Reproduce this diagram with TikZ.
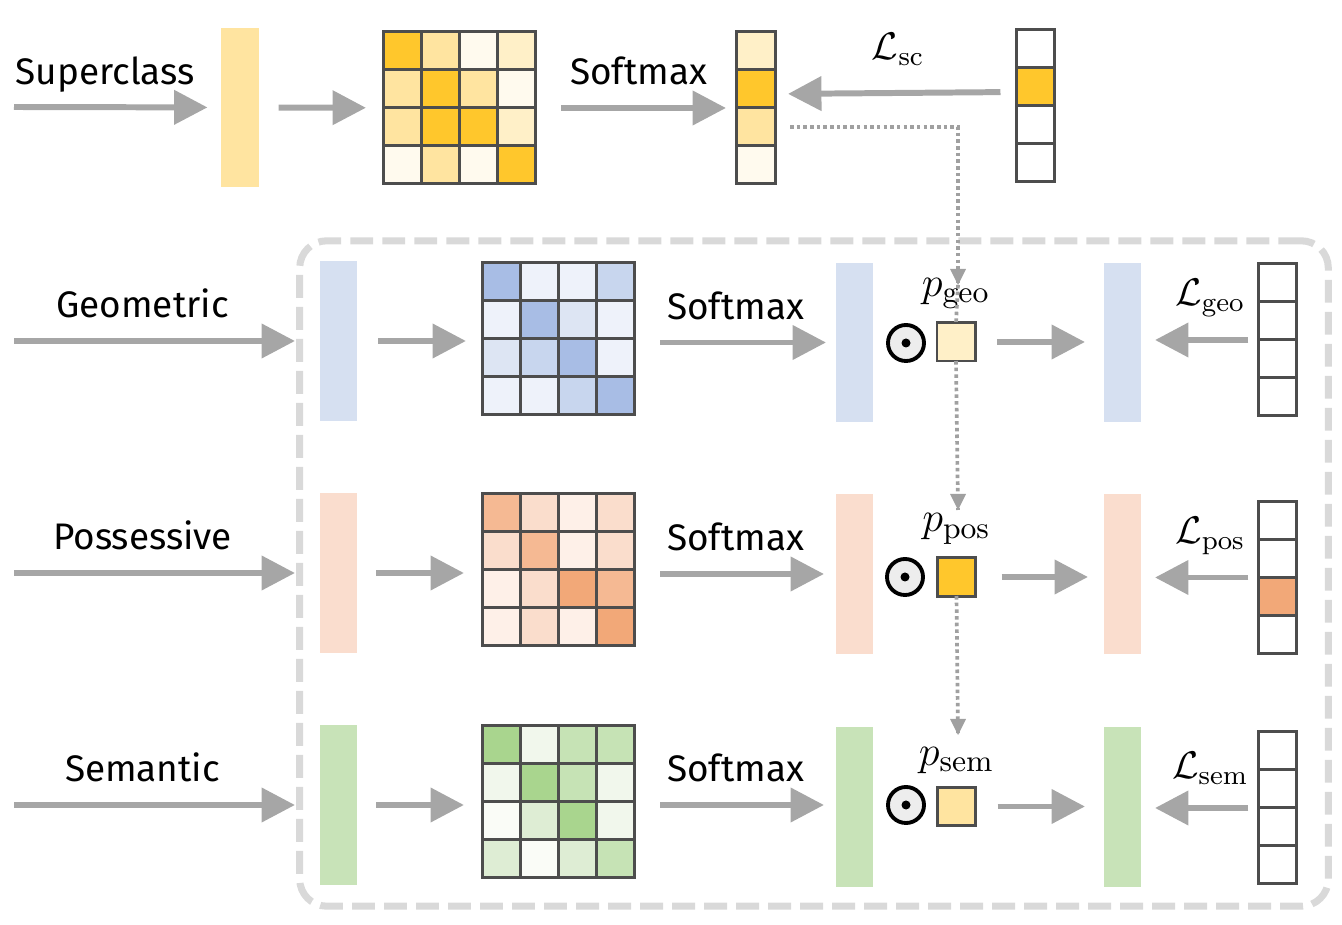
\documentclass[tikz,border=0pt]{standalone}
\usepackage{fontspec}
\newfontfamily\labelfont{Fira Sans}
\usepackage{amsmath}
\usepackage{xcolor}
\usetikzlibrary{arrows.meta,positioning}

\definecolor{yel1}{HTML}{FFC72C}
\definecolor{yel2}{HTML}{FFE4A0}
\definecolor{yel3}{HTML}{FFF0C8}
\definecolor{yel4}{HTML}{FFFAEE}
\definecolor{blu0}{HTML}{D6E0F1}
\definecolor{blu1}{HTML}{A8BDE5}
\definecolor{blu2}{HTML}{C8D6EE}
\definecolor{blu3}{HTML}{DDE5F3}
\definecolor{blu4}{HTML}{EEF2FA}
\definecolor{org0}{HTML}{FADDCE}
\definecolor{org1}{HTML}{F2A878}
\definecolor{org2}{HTML}{F5B993}
\definecolor{org3}{HTML}{FADDCC}
\definecolor{org4}{HTML}{FEF0E8}
\definecolor{grn0}{HTML}{C8E3B8}
\definecolor{grn1}{HTML}{A9D58E}
\definecolor{grn2}{HTML}{C6E3B5}
\definecolor{grn3}{HTML}{DEEDD4}
\definecolor{grn4}{HTML}{F1F7EC}
\definecolor{grn5}{HTML}{FAFCF7}
\definecolor{cellgray}{HTML}{4D4D4D}
\definecolor{arrowgray}{HTML}{A6A6A6}
\definecolor{dotgray}{HTML}{A0A0A0}
\definecolor{framegray}{HTML}{D9D9D9}
\definecolor{dotfill}{HTML}{EDEDED}

\begin{document}
\begin{tikzpicture}[x=0.01cm, y=-0.01cm, >={Triangle[length=9.5pt,width=9.5pt]}]
        \tikzstyle{cell}=[draw=cellgray, line width=0.85pt, minimum size=0.38cm, inner sep=0pt, outer sep=0pt]
        \tikzstyle{bar}=[minimum width=0.37cm, minimum height=1.59cm, inner sep=0pt, outer sep=0pt]
        \tikzstyle{block}=[minimum size=1.52cm, inner sep=0pt, outer sep=0pt]
        \tikzstyle{column}=[minimum width=0.38cm, minimum height=1.52cm, inner sep=0pt, outer sep=0pt]
        \tikzstyle{flow}=[->, draw=arrowgray, line width=1.7pt]
        \tikzstyle{hint}=[draw=dotgray, line width=1.05pt, dash pattern=on 1pt off 0.9pt]
        \tikzstyle{word}=[font=\labelfont\fontsize{10.5}{12}\selectfont, inner sep=0pt, text depth=0pt]
        \tikzstyle{loss}=[font=\fontsize{11}{13}\selectfont, inner sep=0pt]
        \tikzstyle{sym}=[font=\fontsize{12.5}{14}\selectfont, inner sep=0pt]
        \tikzstyle{odot}=[circle, draw=black, fill=dotfill, line width=1.1pt, minimum size=0.36cm, inner sep=0pt]
        \tikzstyle{frame}=[draw=framegray, line width=2pt, dash pattern=on 6.5pt off 2.6pt, rounded corners=0.27cm, minimum width=10.28cm, minimum height=6.65cm, inner sep=0pt]
        \useasboundingbox (0,0) rectangle (1342,925);

        % grouping frame
        \node[frame] (group) at (814,573.5) {};

        % superclass row
        \coordinate (sc-in) at (14,107);
        \node[bar, fill=yel2]   (sc-bar) at (240,107.5) {};
        \node[block]            (sc-mat) at (460,108) {};
        \node[column]           (sc-vec) at (756,108) {};
        \node[column]           (sc-gt)  at (1035.5,106) {};
        \foreach \fc [count=\i from 0] in {yel1,yel2,yel4,yel3, yel2,yel1,yel2,yel4, yel2,yel1,yel1,yel3, yel4,yel2,yel4,yel1} {
            \pgfmathtruncatemacro\mr{\i/4}
            \pgfmathtruncatemacro\mc{mod(\i,4)}
            \node[cell, fill=\fc] (sc-mat-\i) at ([shift={(19+38*\mc,19+38*\mr)}]sc-mat.north west) {};
        }
        \foreach \fc [count=\i from 0] in {yel3,yel1,yel2,yel4}
            \node[cell, fill=\fc] (sc-vec-\i) at ([shift={(19,19+38*\i)}]sc-vec.north west) {};
        \foreach \fc [count=\i from 0] in {white,yel1,white,white}
            \node[cell, fill=\fc] (sc-gt-\i) at ([shift={(19,19+38*\i)}]sc-gt.north west) {};

        \draw[flow, shorten >=0.14cm] (sc-in) -- node[word, above=0.2cm, pos=0.44] (sc-name) {Superclass} (sc-bar);
        \draw[flow, shorten <=0.2cm, shorten >=0.18cm] (sc-bar) -- (sc-mat);
        \draw[flow, shorten <=0.25cm, shorten >=0.11cm] (sc-mat) -- node[word, above=0.2cm, pos=0.51] (sc-soft) {Softmax} (sc-vec);
        \draw[flow, shorten <=0.16cm, shorten >=0.13cm] ([yshift=0.14cm]sc-gt.west) -- node[loss, above=0.24cm, pos=0.49] (sc-loss) {$\mathcal{L}_{\mathrm{sc}}$} ([yshift=0.14cm]sc-vec.east);

        % geometric row
        \coordinate (geo-in) at (14,341);
        \node[bar, fill=blu0]   (geo-bar)  at (338.5,341) {};
        \node[block]            (geo-mat)  at (559,339) {};
        \node[bar, fill=blu0]   (geo-soft) at (854.5,342.5) {};
        \node[odot]             (geo-dot)  at (906,343) {};
        \node[cell, fill=yel3]  (geo-p)    at (956,342) {};
        \node[bar, fill=blu0]   (geo-out)  at (1122.5,342.5) {};
        \node[column]           (geo-gt)   at (1277.5,340) {};
        \foreach \fc [count=\i from 0] in {blu1,blu4,blu4,blu2, blu4,blu1,blu3,blu4, blu3,blu2,blu1,blu4, blu4,blu4,blu2,blu1} {
            \pgfmathtruncatemacro\mr{\i/4}
            \pgfmathtruncatemacro\mc{mod(\i,4)}
            \node[cell, fill=\fc] (geo-mat-\i) at ([shift={(19+38*\mc,19+38*\mr)}]geo-mat.north west) {};
        }
        \foreach \fc [count=\i from 0] in {white,white,white,white}
            \node[cell, fill=\fc] (geo-gt-\i) at ([shift={(19,19+38*\i)}]geo-gt.north west) {};
        \fill (geo-dot) circle (0.045cm);

        \draw[flow, shorten >=0.25cm] (geo-in) -- node[word, above=0.2cm, pos=0.42] (geo-name) {Geometric} (geo-bar);
        \draw[flow, shorten <=0.21cm, shorten >=0.17cm] (geo-bar) -- (geo-mat.west |- geo-bar);
        \draw[flow, shorten <=0.25cm, shorten >=0.1cm] (geo-mat.east |- geo-soft) -- node[word, above=0.2cm] (geo-sm) {Softmax} (geo-soft);
        \draw[flow, shorten <=0.22cm, shorten >=0.19cm] (geo-p) -- (geo-out.west |- geo-p);
        \draw[flow, shorten <=0.1cm, shorten >=0.14cm] (geo-gt) -- node[loss, above=0.2cm, pos=0.41] (geo-loss) {$\mathcal{L}_{\mathrm{geo}}$} (geo-out.east |- geo-gt);
        \node[sym, above=0.13cm of geo-p] (geo-prob) {$p_{\mathrm{geo}}$};

        % possessive row
        \coordinate (pos-in) at (14,573);
        \node[bar, fill=org0]   (pos-bar)  at (338.5,573) {};
        \node[block]            (pos-mat)  at (559,570) {};
        \node[bar, fill=org0]   (pos-soft) at (854.5,574) {};
        \node[odot]             (pos-dot)  at (905,577) {};
        \node[cell, fill=yel1]  (pos-p)    at (956.5,577) {};
        \node[bar, fill=org0]   (pos-out)  at (1122.5,574) {};
        \node[column]           (pos-gt)   at (1277.5,577.5) {};
        \foreach \fc [count=\i from 0] in {org2,org3,org4,org3, org3,org2,org4,org3, org4,org3,org1,org2, org4,org3,org4,org1} {
            \pgfmathtruncatemacro\mr{\i/4}
            \pgfmathtruncatemacro\mc{mod(\i,4)}
            \node[cell, fill=\fc] (pos-mat-\i) at ([shift={(19+38*\mc,19+38*\mr)}]pos-mat.north west) {};
        }
        \foreach \fc [count=\i from 0] in {white,white,org1,white}
            \node[cell, fill=\fc] (pos-gt-\i) at ([shift={(19,19+38*\i)}]pos-gt.north west) {};
        \fill (pos-dot) circle (0.045cm);

        \draw[flow, shorten >=0.25cm] (pos-in) -- node[word, above=0.2cm, pos=0.42] (pos-name) {Possessive} (pos-bar);
        \draw[flow, shorten <=0.19cm, shorten >=0.19cm] (pos-bar) -- (pos-mat.west |- pos-bar);
        \draw[flow, shorten <=0.25cm, shorten >=0.12cm] (pos-mat.east |- pos-soft) -- node[word, above=0.2cm] (pos-sm) {Softmax} (pos-soft);
        \draw[flow, shorten <=0.26cm, shorten >=0.16cm] (pos-p) -- (pos-out.west |- pos-p);
        \draw[flow, shorten <=0.1cm, shorten >=0.14cm] (pos-gt) -- node[loss, above=0.2cm, pos=0.41] (pos-loss) {$\mathcal{L}_{\mathrm{pos}}$} (pos-out.east |- pos-gt);
        \node[sym, above=0.13cm of pos-p] (pos-prob) {$p_{\mathrm{pos}}$};

        % semantic row
        \coordinate (sem-in) at (14,805);
        \node[bar, fill=grn0]   (sem-bar)  at (338.5,805) {};
        \node[block]            (sem-mat)  at (559,802) {};
        \node[bar, fill=grn0]   (sem-soft) at (854.5,807) {};
        \node[odot]             (sem-dot)  at (906,805) {};
        \node[cell, fill=yel2]  (sem-p)    at (956.5,806.5) {};
        \node[bar, fill=grn0]   (sem-out)  at (1122.5,807) {};
        \node[column]           (sem-gt)   at (1277.5,808) {};
        \foreach \fc [count=\i from 0] in {grn1,grn4,grn2,grn2, grn4,grn1,grn2,grn4, grn5,grn3,grn1,grn4, grn3,grn5,grn3,grn2} {
            \pgfmathtruncatemacro\mr{\i/4}
            \pgfmathtruncatemacro\mc{mod(\i,4)}
            \node[cell, fill=\fc] (sem-mat-\i) at ([shift={(19+38*\mc,19+38*\mr)}]sem-mat.north west) {};
        }
        \foreach \fc [count=\i from 0] in {white,white,white,white}
            \node[cell, fill=\fc] (sem-gt-\i) at ([shift={(19,19+38*\i)}]sem-gt.north west) {};
        \fill (sem-dot) circle (0.045cm);

        \draw[flow, shorten >=0.25cm] (sem-in) -- node[word, above=0.2cm, pos=0.42] (sem-name) {Semantic} (sem-bar);
        \draw[flow, shorten <=0.19cm, shorten >=0.19cm] (sem-bar) -- (sem-mat.west |- sem-bar);
        \draw[flow, shorten <=0.25cm, shorten >=0.12cm] (sem-mat.east |- sem-bar) -- node[word, above=0.2cm] (sem-sm) {Softmax} (sem-soft.west |- sem-bar);
        \draw[flow, shorten <=0.22cm, shorten >=0.19cm] (sem-p) -- (sem-out.west |- sem-p);
        \draw[flow, shorten <=0.1cm, shorten >=0.14cm] (sem-gt) -- node[loss, above=0.2cm, pos=0.41] (sem-loss) {$\mathcal{L}_{\mathrm{sem}}$} (sem-out.east |- sem-gt);
        \node[sym, above=0.13cm of sem-p] (sem-prob) {$p_{\mathrm{sem}}$};

        % dotted gating path
        \coordinate (geo-tip) at (958,285);
        \coordinate (pos-tip) at (958,510);
        \coordinate (sem-tip) at (958,735);
        \draw[hint] ([xshift=0.15cm]sc-vec-2.east) -| (geo-tip);
        \draw[hint] (geo-tip) -- (geo-p.north);
        \draw[hint] (geo-p.south) -- (pos-tip);
        \draw[hint] (pos-p.south) -- (sem-tip);
        \foreach \tip in {geo-tip,pos-tip,sem-tip}
            \fill[dotgray] (\tip) -- ++(-8,-16) -- ++(16,0) -- cycle;
\end{tikzpicture}
\end{document}
